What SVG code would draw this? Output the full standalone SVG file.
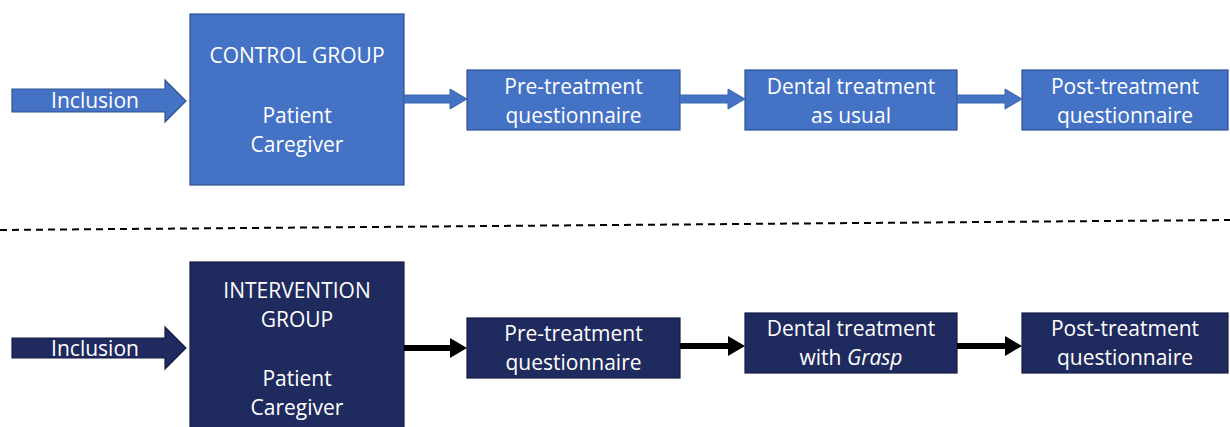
<svg xmlns="http://www.w3.org/2000/svg" width="1230" height="427" viewBox="0 0 1230 427">
<style>
.t{font-family:"Open Sans","Liberation Sans",sans-serif;font-size:21px;fill:#ffffff;text-anchor:middle;dominant-baseline:central}
.blue{fill:#4472C4;stroke:#2F528F;stroke-width:1.2}
.navy{fill:#1F2A5E;stroke:#141B44;stroke-width:1.2}
.ca{fill:#4472C4;stroke:#3A64AE;stroke-width:1}
.cb{fill:#000000}
</style>
<rect width="1230" height="427" fill="#ffffff"/>
<line x1="0" y1="230" x2="1230" y2="220" stroke="#000" stroke-width="2" stroke-dasharray="7,5"/>

<g id="inclusion-top">
<polygon class="blue" points="12,89 165,89 165,80 186,101 165,122 165,112 12,112"/>
<text class="t" x="95" y="100">Inclusion</text>
</g>
<g id="control-group">
<rect class="blue" x="190" y="14" width="214" height="171"/>
<text class="t" x="297" y="55">CONTROL GROUP</text>
<text class="t" x="297" y="115">Patient</text>
<text class="t" x="297" y="144">Caregiver</text>
</g>
<g id="pre-top">
<rect class="blue" x="467" y="70" width="213" height="60"/>
<text class="t" x="573.5" y="86">Pre-treatment</text>
<text class="t" x="573.5" y="115">questionnaire</text>
</g>
<g id="dental-top">
<rect class="blue" x="745" y="70" width="212" height="60"/>
<text class="t" x="851" y="86">Dental treatment</text>
<text class="t" x="851" y="115">as usual</text>
</g>
<g id="post-top">
<rect class="blue" x="1022" y="70" width="206" height="60"/>
<text class="t" x="1125" y="86">Post-treatment</text>
<text class="t" x="1125" y="115">questionnaire</text>
</g>

<g id="inclusion-bottom">
<polygon class="navy" points="12,338 165,338 165,327 186,348 165,369 165,358 12,358"/>
<text class="t" x="95" y="348">Inclusion</text>
</g>
<g id="intervention-group">
<rect class="navy" x="190" y="262" width="214" height="170"/>
<text class="t" x="297" y="290">INTERVENTION</text>
<text class="t" x="297" y="319">GROUP</text>
<text class="t" x="297" y="378">Patient</text>
<text class="t" x="297" y="407">Caregiver</text>
</g>
<g id="pre-bottom">
<rect class="navy" x="467" y="318" width="213" height="60"/>
<text class="t" x="573.5" y="333">Pre-treatment</text>
<text class="t" x="573.5" y="362">questionnaire</text>
</g>
<g id="dental-bottom">
<rect class="navy" x="745" y="313" width="212" height="60"/>
<text class="t" x="851" y="328">Dental treatment</text>
<text class="t" x="851" y="357">with <tspan font-style="italic">Grasp</tspan></text>
</g>
<g id="post-bottom">
<rect class="navy" x="1022" y="313" width="206" height="60"/>
<text class="t" x="1125" y="328">Post-treatment</text>
<text class="t" x="1125" y="357">questionnaire</text>
</g>

<g id="connectors">
<polygon class="ca" points="404,95 450,95 450,89 467,99 450,109 450,103 404,103"/>
<polygon class="ca" points="680,95 728,95 728,89 745,99 728,109 728,103 680,103"/>
<polygon class="ca" points="957,95 1005,95 1005,89 1022,99 1005,109 1005,103 957,103"/>
<polygon class="cb" points="404,345 450,345 450,338 467,348 450,358 450,351 404,351"/>
<polygon class="cb" points="680,343 728,343 728,336 745,346 728,356 728,349 680,349"/>
<polygon class="cb" points="957,343 1005,343 1005,336 1022,346 1005,356 1005,349 957,349"/>
</g>
</svg>
